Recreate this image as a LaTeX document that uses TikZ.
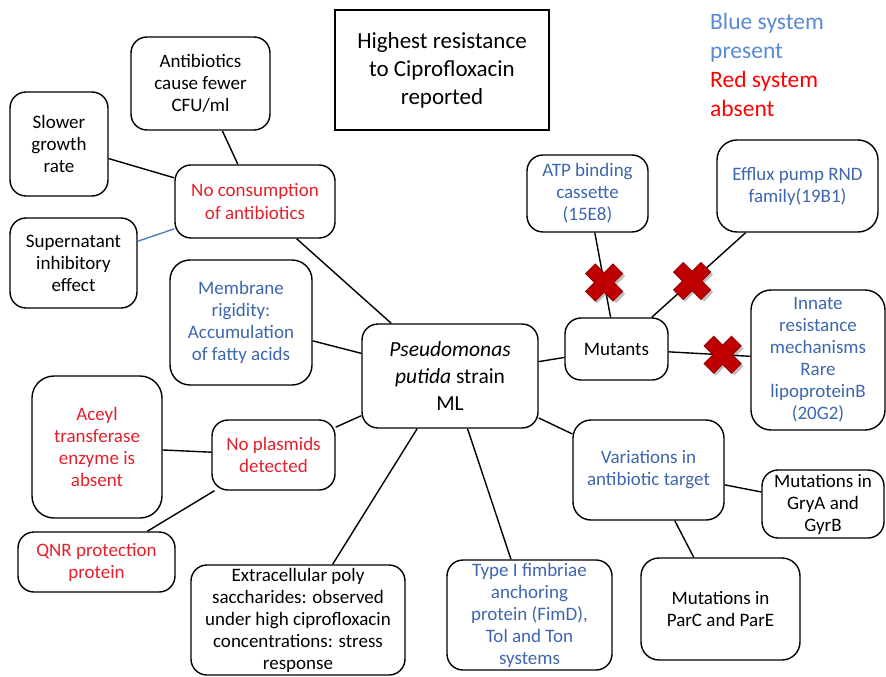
\documentclass[tikz,border=0pt]{standalone}
\usepackage{fontspec}
\setmainfont{Carlito}
\definecolor{tblue}{HTML}{3E66AE}
\definecolor{tred}{HTML}{E4212B}
\definecolor{lblue}{HTML}{5A8AD6}
\definecolor{lred}{HTML}{FF0000}
\definecolor{xred}{HTML}{C00000}
\definecolor{xdark}{HTML}{8C0000}
\definecolor{lineblue}{HTML}{4F81BD}
\tikzset{
  box/.style={draw=black, line width=1.4pt, rounded corners=16pt, fill=white,
    align=center, inner sep=2pt, font=\fontsize{19}{22}\selectfont},
  conn/.style={line width=1.4pt, draw=black},
  bluetxt/.style={text=tblue},
  redtxt/.style={text=tred},
  redx/.pic={
    \foreach \s in {1,-1}{\draw[line width=13pt, black, opacity=0.25] (-11.5,-13.5*\s+2.5) -- (16.5,13.5*\s+2.5);}
    \foreach \s in {1,-1}{\draw[line width=14.5pt, xdark] (-14,-14*\s) -- (14,14*\s);}
    \foreach \s in {1,-1}{\draw[line width=12.5pt, xred] (-13.6,-13.6*\s) -- (13.6,13.6*\s);}
  }
}
\begin{document}
\begin{tikzpicture}[x=1pt,y=-1pt]
\useasboundingbox[fill=white] (0,0) rectangle (886,677);

% title
\node[draw=black, line width=1.4pt, minimum width=214pt, minimum height=120pt, align=center,
  font=\fontsize{23}{28}\selectfont] (title) at (442,70) {Highest resistance\\to Ciprofloxacin\\reported};

% legend
\node[anchor=north west, align=left, inner sep=0pt, font=\fontsize{23.5}{29}\selectfont] (legend) at (710,13)
  {\textcolor{lblue}{Blue system}\\\textcolor{lblue}{present}\\\textcolor{lred}{Red system}\\\textcolor{lred}{absent}};

% boxes
\node[box, minimum width=139pt, minimum height=93pt] (abx) at (200.5,83.5) {Antibiotics\\cause fewer\\CFU/ml};
\node[box, minimum width=98pt, minimum height=104pt] (slow) at (59,144) {Slower\\growth\\rate};
\node[box, redtxt, minimum width=160pt, minimum height=73pt] (nocons) at (255,201.5) {No consumption\\of antibiotics};
\node[box, minimum width=127pt, minimum height=90pt] (super) at (73.5,263) {Supernatant\\inhibitory\\effect};
\node[box, bluetxt, minimum width=142pt, minimum height=125pt, rounded corners=20pt] (memb) at (241,322.5) {Membrane\\rigidity:\\Accumulation\\of fatty acids};
\node[box, minimum width=176pt, minimum height=104pt, font=\fontsize{21.5}{27}\selectfont] (central) at (450,376) {\textit{Pseudomonas}\\\textit{putida} strain\\ML};
\node[box, minimum width=103pt, minimum height=62pt] (mut) at (616.5,349) {Mutants};
\node[box, bluetxt, minimum width=121pt, minimum height=77pt] (atp) at (587.5,193.5) {ATP binding\\cassette\\(15E8)};
\node[box, bluetxt, minimum width=161pt, minimum height=92pt, rounded corners=20pt] (efflux) at (797.5,186) {Efflux pump RND\\family(19B1)};
\node[box, bluetxt, minimum width=134pt, minimum height=140pt, rounded corners=20pt] (innate) at (818,360) {Innate\\resistance\\mechanisms\\Rare\\lipoproteinB\\(20G2)};
\node[box, redtxt, minimum width=130pt, minimum height=142pt, rounded corners=22pt] (aceyl) at (97,447) {Aceyl\\transferase\\enzyme is\\absent};
\node[box, redtxt, minimum width=123pt, minimum height=70pt] (noplas) at (273.5,455) {No plasmids\\detected};
\node[box, redtxt, minimum width=157pt, minimum height=60pt] (qnr) at (96.5,562) {QNR protection\\protein};
\node[box, minimum width=214pt, minimum height=110pt] (extra) at (298,620) {Extracellular poly\\saccharides: observed\\under high ciprofloxacin\\concentrations: stress\\response};
\node[box, bluetxt, minimum width=165pt, minimum height=110pt] (type) at (529.5,615) {Type I fimbriae\\anchoring\\protein (FimD),\\Tol and Ton\\systems};
\node[box, bluetxt, minimum width=151pt, minimum height=100pt, rounded corners=18pt] (var) at (648.5,470) {Variations in\\antibiotic target};
\node[box, minimum width=122pt, minimum height=68pt] (gry) at (823,504) {Mutations in\\GryA and\\GyrB};
\node[box, minimum width=159pt, minimum height=102pt, rounded corners=18pt] (parc) at (720.5,609) {Mutations in\\ParC and ParE};

% connectors
\draw[conn] (abx) -- (nocons);
\draw[conn] (slow) -- (nocons);
\draw[conn, draw=lineblue] (super) -- (nocons);
\draw[conn] (nocons) -- (central);
\draw[conn] (memb) -- (central);
\draw[conn] (central) -- (mut);
\draw[conn] (atp) -- (mut) coordinate[pos=0.59] (x1);
\draw[conn] (efflux) -- (mut) coordinate[pos=0.57] (x2);
\draw[conn] (mut) -- (innate) coordinate[pos=0.66] (x3);
\draw[conn] (central) -- (noplas);
\draw[conn] (aceyl) -- (noplas);
\draw[conn] (noplas) -- (qnr);
\draw[conn] (central) -- (extra);
\draw[conn] (central) -- (type);
\draw[conn] (central) -- (var);
\draw[conn] (var) -- (gry);
\draw[conn] (var) -- (parc);

% red crosses
\pic at (x1) {redx};
\pic at (x2) {redx};
\pic at (x3) {redx};
\end{tikzpicture}
\end{document}
